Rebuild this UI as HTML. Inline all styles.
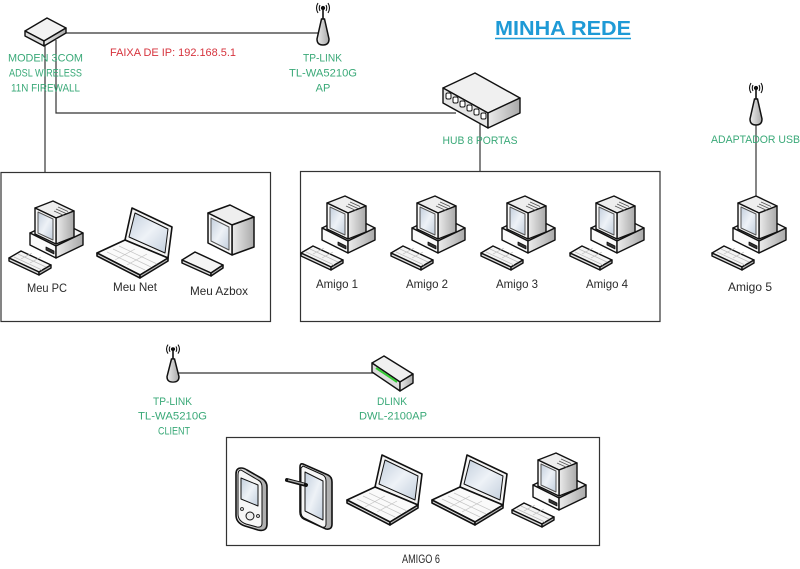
<!DOCTYPE html>
<html><head><meta charset="utf-8"><style>
html,body{margin:0;padding:0;background:#fff;}
svg{display:block;}
text{font-family:"Liberation Sans",sans-serif;}
.g{fill:#3aa978;font-size:11px;}
.k{fill:#2a2a2a;font-size:12px;}
</style></head><body>
<svg width="800" height="569" viewBox="0 0 800 569" xmlns="http://www.w3.org/2000/svg">
<defs>
<linearGradient id="side" x1="0" y1="0" x2="1" y2="0"><stop offset="0" stop-color="#ececec"/><stop offset="1" stop-color="#a9a9a9"/></linearGradient>
<linearGradient id="scr" x1="0" y1="0" x2="1" y2="1"><stop offset="0" stop-color="#c3cfdd"/><stop offset="0.5" stop-color="#eef2f7"/><stop offset="1" stop-color="#c3cfdd"/></linearGradient>
<symbol id="pc" viewBox="0 0 80 82" overflow="visible">
 <g stroke="#111" stroke-width="1.4" stroke-linejoin="round">
  <polygon points="22,36 49,23 75,36 48,49" fill="#f2f2f2"/>
  <polygon points="22,36 48,49 48,61 22,48" fill="#fafafa"/>
  <polygon points="48,49 75,36 75,48 48,61" fill="url(#side)"/>
  <polygon points="38,50 46,54 46,57 38,53" fill="#333" stroke-width="0.8"/>
  <polygon points="27,11 45,4 66,14 48,21" fill="#eee"/>
  <polygon points="48,21 66,14 66,40 48,47" fill="url(#side)"/>
  <polygon points="27,11 48,21 48,47 27,37" fill="#f7f7f7"/>
  <polygon points="30,15 45,22 45,43 30,36" fill="url(#scr)" stroke="#555" stroke-width="1"/>
  <g stroke="#555" stroke-width="0.8"><line x1="50" y1="10" x2="60" y2="14.5"/><line x1="48" y1="12" x2="58" y2="16.5"/><line x1="46" y1="14" x2="56" y2="18.5"/></g>
  <polygon points="1,61 13,54 43,68 31,75" fill="#f4f4f4"/>
  <polygon points="1,61 31,75 31,78 1,64" fill="#ddd"/>
  <polygon points="31,75 43,68 43,71 31,78" fill="#bbb"/>
  <g stroke="#bbb" stroke-width="0.7"><line x1="6" y1="60" x2="34" y2="73"/><line x1="10" y1="57" x2="38" y2="70"/><line x1="13" y1="62" x2="24" y2="56"/><line x1="22" y1="66" x2="33" y2="60"/></g>
 </g>
</symbol>
<symbol id="lap" viewBox="0 0 80 76" overflow="visible">
 <g stroke="#111" stroke-width="1.6" stroke-linejoin="round">
  <polygon points="37,3 77,22 73,53 30,35" fill="#f4f4f4"/>
  <polygon points="40,8 73,24 70,48 34,32" fill="url(#scr)" stroke-width="1"/>
  <polygon points="2,48 30,35 73,53 45,70" fill="#fafafa"/>
  <polygon points="2,48 45,70 45,73 2,51" fill="#ddd"/>
  <polygon points="45,70 73,53 73,56 45,73" fill="#bbb"/>
  <g stroke="#c4c4c4" stroke-width="0.7"><line x1="12" y1="47" x2="50" y2="65"/><line x1="18" y1="44" x2="56" y2="62"/><line x1="24" y1="41" x2="62" y2="59"/><line x1="20" y1="55" x2="40" y2="44"/><line x1="32" y1="60" x2="52" y2="49"/></g>
 </g>
</symbol>
<symbol id="ant" viewBox="0 0 20 46" preserveAspectRatio="none" overflow="visible">
 <g stroke="#111" fill="none" stroke-width="1.1">
  <circle cx="10" cy="8" r="1.6" fill="#111"/>
  <path d="M7,5 Q5.5,8 7,11 M13,5 Q14.5,8 13,11 M5,3 Q2,8 5,13 M15,3 Q18,8 15,13"/>
  <line x1="10" y1="8" x2="10" y2="20" stroke-width="1.6"/>
  <path d="M8.5,19 L11.5,19 L16,39 Q16,45 10,45 Q4,45 4,39 Z" fill="url(#side)" stroke-width="1.5"/>
 </g>
</symbol>
</defs>

<!-- connectors -->
<g stroke="#333" stroke-width="1.2" fill="none">
 <line x1="66" y1="33" x2="320" y2="33"/>
 <polyline points="56,40 56,113 456,113"/>
 <line x1="45" y1="44" x2="45" y2="172"/>
 <line x1="480" y1="124" x2="480" y2="172"/>
 <line x1="756" y1="124" x2="756" y2="199"/>
 <line x1="176" y1="373" x2="374" y2="373"/>
 <rect x="1" y="172.5" width="269.5" height="149"/>
 <rect x="300.5" y="171.5" width="359.5" height="150"/>
 <rect x="226.5" y="437.5" width="373" height="108"/>
</g>

<!-- modem -->
<g stroke="#111" stroke-width="1.4" stroke-linejoin="round">
 <polygon points="25,31 47,18 66,28 44,41" fill="#f2f2f2"/>
 <polygon points="25,31 44,41 44,46 25,36" fill="#ddd"/>
 <polygon points="44,41 66,28 66,33 44,46" fill="url(#side)"/>
</g>

<!-- hub -->
<g stroke="#111" stroke-width="1.4" stroke-linejoin="round">
 <polygon points="443,88 475,73 520,98 488,113" fill="#f0f0f0"/>
 <polygon points="443,88 488,113 488,128 443,103" fill="#e6e6e6"/>
 <polygon points="488,113 520,98 520,113 488,128" fill="url(#side)"/>
 <g fill="#fff" stroke-width="1">
  <rect x="446" y="93" width="5" height="6" rx="1.5"/>
  <rect x="453" y="97" width="5" height="6" rx="1.5"/>
  <rect x="460" y="101" width="5" height="6" rx="1.5"/>
  <rect x="467" y="105" width="5" height="6" rx="1.5"/>
  <rect x="474" y="109" width="5" height="6" rx="1.5"/>
  <rect x="481" y="113" width="5" height="6" rx="1.5"/>
 </g>
</g>

<!-- dlink -->
<g stroke="#111" stroke-width="1.4" stroke-linejoin="round">
 <polygon points="372,363 384,356 413,374 400,382" fill="#f0f0f0"/>
 <polygon points="372,363 400,382 400,391 372,372" fill="#ddd"/>
 <polygon points="400,382 413,374 413,383 400,391" fill="url(#side)"/>
 <line x1="376" y1="368" x2="397" y2="382" stroke="#3c3" stroke-width="2"/>
</g>

<!-- antennas -->
<use href="#ant" x="313" y="0" width="20" height="46"/>
<use href="#ant" x="746" y="80" width="20" height="46"/>
<use href="#ant" x="163" y="342" width="20" height="41"/>

<!-- PCs -->
<use href="#pc" x="8" y="197" width="80" height="82"/>
<use href="#pc" x="300" y="192" width="80" height="82"/>
<use href="#pc" x="390" y="192" width="80" height="82"/>
<use href="#pc" x="480" y="192" width="80" height="82"/>
<use href="#pc" x="569" y="192" width="80" height="82"/>
<use href="#pc" x="711" y="192" width="80" height="82"/>
<use href="#pc" x="511" y="449" width="80" height="82"/>

<!-- laptops -->
<use href="#lap" x="95" y="205" width="80" height="76"/>
<use href="#lap" x="345" y="452" width="80" height="76"/>
<use href="#lap" x="430" y="452" width="80" height="76"/>

<!-- azbox -->
<g transform="translate(180,200)" stroke="#111" stroke-width="1.5" stroke-linejoin="round">
 <polygon points="28,13 50,5 74,17 52,25" fill="#eee"/>
 <polygon points="52,25 74,17 74,47 52,55" fill="url(#side)"/>
 <polygon points="28,13 52,25 52,55 28,43" fill="#f7f7f7"/>
 <polygon points="31,18 49,27 49,50 31,41" fill="url(#scr)" stroke="#555" stroke-width="1"/>
 <polygon points="2,60 15,52 43,65 31,73" fill="#f4f4f4"/>
 <polygon points="2,60 31,73 31,76 2,63" fill="#ddd"/>
 <polygon points="31,73 43,65 43,68 31,76" fill="#bbb"/>
</g>

<!-- PDA -->
<g stroke="#111" stroke-width="1.6" stroke-linejoin="round">
 <path d="M241,468 Q236,468 236,474 L236,515 Q236,523 245,526 L258,530 Q267,532 267,524 L267,487 Q267,481 261,478 L247,470 Q244,468 241,468 Z" fill="url(#side)"/>
 <path d="M241,470 Q238,470 238,475 L238,514 Q238,521 246,524 L257,527 Q262,528 262,523 L262,487 Q262,482 258,480 Z" fill="#f6f6f6" stroke-width="1"/>
 <polygon points="241,478 258,485 258,506 241,499" fill="url(#scr)" stroke-width="1"/>
 <circle cx="250" cy="516" r="4" fill="#eee" stroke-width="1"/>
 <circle cx="242" cy="509" r="1.5" fill="#ccc" stroke-width="0.8"/>
 <circle cx="258" cy="516" r="1.5" fill="#ccc" stroke-width="0.8"/>
</g>
<!-- tablet -->
<g stroke="#111" stroke-width="1.6" stroke-linejoin="round">
 <path d="M303,464 L328,475 Q332,477 332,482 L332,524 Q332,530 326,529 L304,519 Q300,517 300,512 L300,467 Q300,463 303,464 Z" fill="url(#side)"/>
 <path d="M303,466 L323,475 Q326,477 326,481 L326,524 Q326,528 322,527 L304,518 Q301,516 301,512 L301,468 Z" fill="#f6f6f6" stroke-width="1"/>
 <polygon points="305,472 323,481 323,520 305,511" fill="url(#scr)" stroke-width="1"/>
 <line x1="287" y1="480" x2="306" y2="485" stroke-width="4" stroke-linecap="round"/>
 <line x1="288" y1="480" x2="304" y2="484" stroke="#aaa" stroke-width="1.2"/>
</g>

<!-- texts -->
<text x="563" y="35" text-anchor="middle" font-size="20" font-weight="bold" fill="#1e9ad6" textLength="136" lengthAdjust="spacingAndGlyphs">MINHA REDE</text>
<line x1="495" y1="38.5" x2="631" y2="38.5" stroke="#1e9ad6" stroke-width="1.5"/>
<text x="173" y="56" text-anchor="middle" font-size="11" fill="#d6333d" textLength="126" lengthAdjust="spacingAndGlyphs">FAIXA DE IP: 192.168.5.1</text>

<text class="g" x="45.5" y="61.5" text-anchor="middle" textLength="75" lengthAdjust="spacingAndGlyphs">MODEN 3COM</text>
<text class="g" x="45.5" y="76.5" text-anchor="middle" textLength="73" lengthAdjust="spacingAndGlyphs">ADSL WIRELESS</text>
<text class="g" x="45.5" y="91.5" text-anchor="middle" textLength="69" lengthAdjust="spacingAndGlyphs">11N FIREWALL</text>
<text class="g" x="322.5" y="61.5" text-anchor="middle" textLength="39" lengthAdjust="spacingAndGlyphs">TP-LINK</text>
<text class="g" x="323" y="76.5" text-anchor="middle" textLength="68" lengthAdjust="spacingAndGlyphs">TL-WA5210G</text>
<text class="g" x="323" y="91.5" text-anchor="middle">AP</text>
<text class="g" x="480" y="144" text-anchor="middle" textLength="75" lengthAdjust="spacingAndGlyphs">HUB 8 PORTAS</text>
<text class="g" x="755.5" y="143" text-anchor="middle" textLength="89" lengthAdjust="spacingAndGlyphs">ADAPTADOR USB</text>
<text class="g" x="172.5" y="405" text-anchor="middle" textLength="39" lengthAdjust="spacingAndGlyphs">TP-LINK</text>
<text class="g" x="172.5" y="419.5" text-anchor="middle" textLength="69" lengthAdjust="spacingAndGlyphs">TL-WA5210G</text>
<text class="g" x="174" y="434.5" text-anchor="middle" textLength="32" lengthAdjust="spacingAndGlyphs">CLIENT</text>
<text class="g" x="392" y="405" text-anchor="middle" textLength="30" lengthAdjust="spacingAndGlyphs">DLINK</text>
<text class="g" x="393" y="419.5" text-anchor="middle" textLength="68" lengthAdjust="spacingAndGlyphs">DWL-2100AP</text>

<text class="k" x="47" y="292" text-anchor="middle" textLength="40" lengthAdjust="spacingAndGlyphs">Meu PC</text>
<text class="k" x="135" y="291" text-anchor="middle" textLength="44" lengthAdjust="spacingAndGlyphs">Meu Net</text>
<text class="k" x="219" y="295" text-anchor="middle" textLength="58" lengthAdjust="spacingAndGlyphs">Meu Azbox</text>
<text class="k" x="337" y="288" text-anchor="middle" textLength="42" lengthAdjust="spacingAndGlyphs">Amigo 1</text>
<text class="k" x="427" y="288" text-anchor="middle" textLength="42" lengthAdjust="spacingAndGlyphs">Amigo 2</text>
<text class="k" x="517" y="288" text-anchor="middle" textLength="42" lengthAdjust="spacingAndGlyphs">Amigo 3</text>
<text class="k" x="607" y="288" text-anchor="middle" textLength="42" lengthAdjust="spacingAndGlyphs">Amigo 4</text>
<text class="k" x="750" y="291" text-anchor="middle" textLength="44" lengthAdjust="spacingAndGlyphs">Amigo 5</text>
<text class="k" x="421" y="563" text-anchor="middle" textLength="38" lengthAdjust="spacingAndGlyphs">AMIGO 6</text>
</svg>
</body></html>
